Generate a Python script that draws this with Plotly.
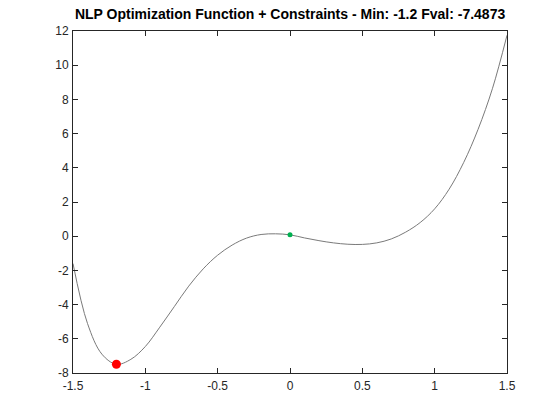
import plotly.graph_objects as go

x_vals = [-1.5, -1.4, -1.3, -1.2, -1.1, -1.0, -0.9, -0.8, -0.7, -0.6, -0.5,
          -0.4, -0.3, -0.2, -0.1, 0.0, 0.1, 0.2, 0.3, 0.4, 0.5,
          0.6, 0.7, 0.8, 0.9, 1.0, 1.1, 1.2, 1.3, 1.4, 1.5]
y_vals = [-1.6, -5.1, -6.9, -7.49, -7.2, -6.45, -5.32, -4.12, -2.92, -1.91, -1.11,
          -0.52, -0.11, 0.10, 0.14, 0.08, -0.10, -0.26, -0.39, -0.47, -0.48,
          -0.39, -0.16, 0.24, 0.80, 1.60, 2.75, 4.30, 6.25, 8.65, 11.75]

start_x = [0.0]
start_y = [0.09]
min_x = [-1.2]
min_y = [-7.4873]

title_text = "NLP Optimization Function + Constraints - Min: -1.2 Fval: -7.4873"
x_ticks = [-1.5, -1, -0.5, 0, 0.5, 1, 1.5]
x_labels = ["-1.5", "-1", "-0.5", "0", "0.5", "1", "1.5"]
y_ticks = [-8, -6, -4, -2, 0, 2, 4, 6, 8, 10, 12]
y_labels = [str(v) for v in y_ticks]

fig = go.Figure()
fig.add_trace(go.Scatter(x=x_vals, y=y_vals, mode="lines",
                         line=dict(color="#7a7a7a", width=1, shape="spline", smoothing=1.0),
                         showlegend=False))
fig.add_trace(go.Scatter(x=start_x, y=start_y, mode="markers",
                         marker=dict(color="#00b050", size=5), showlegend=False))
fig.add_trace(go.Scatter(x=min_x, y=min_y, mode="markers",
                         marker=dict(color="#ff0000", size=9), showlegend=False))

axis_common = dict(showgrid=False, zeroline=False, showline=True, linecolor="#262626",
                   linewidth=1, mirror="ticks", ticks="inside", ticklen=5,
                   tickcolor="#262626",
                   tickfont=dict(family="Liberation Sans, Arial", size=12, color="#262626"))

fig.update_layout(
    width=560, height=420,
    margin=dict(l=73, r=53, t=31, b=47),
    paper_bgcolor="white", plot_bgcolor="white",
    title=dict(text="<b>" + title_text + "</b>", x=0.518, xanchor="center", y=0.967, yanchor="middle",
               font=dict(family="Liberation Sans, Arial", size=14, color="black")),
    xaxis=dict(range=[-1.5, 1.5], tickvals=x_ticks, ticktext=x_labels,
               ticklabelstandoff=2, **axis_common),
    yaxis=dict(range=[-8, 12], tickvals=y_ticks, ticktext=y_labels,
               ticklabelstandoff=1, **axis_common),
)

fig.write_html("out.html")
